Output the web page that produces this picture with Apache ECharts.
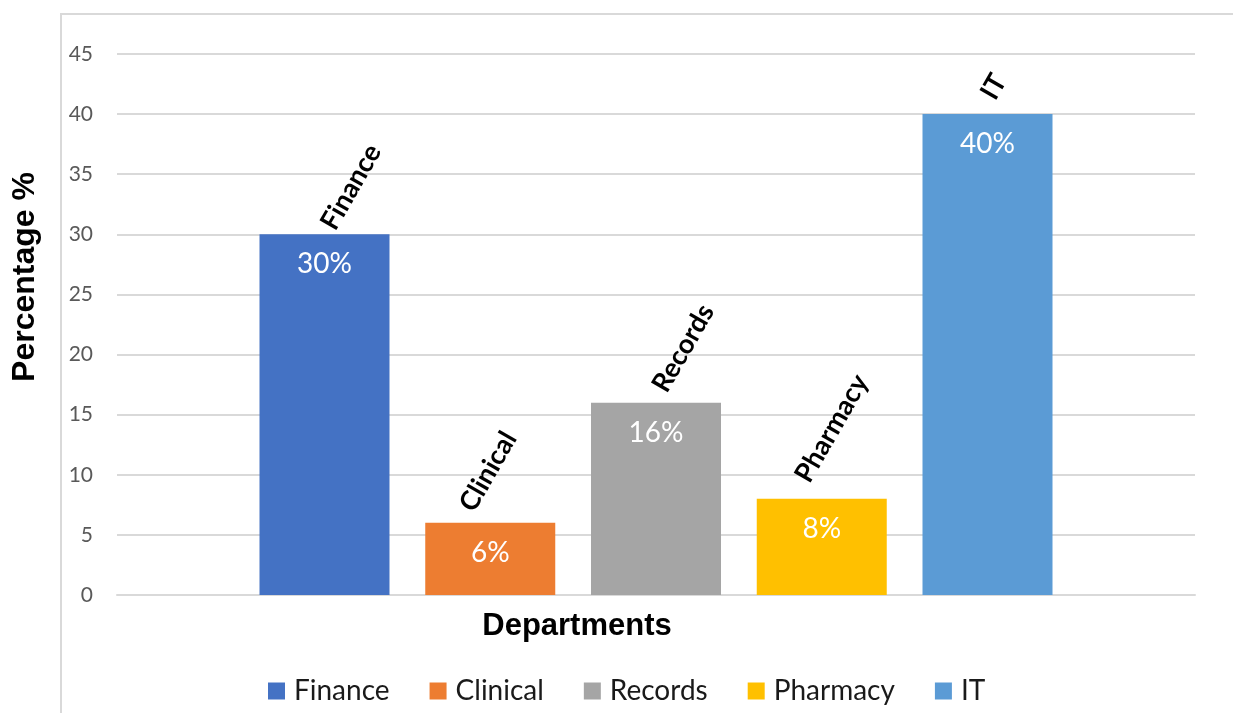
<!DOCTYPE html>
<html>
<head>
<meta charset="utf-8">
<script src="https://cdn.jsdelivr.net/npm/echarts@6/dist/echarts.min.js"></script>
<style>
  html, body { margin: 0; padding: 0; background: #ffffff; }
  #chart { width: 1233px; height: 713px; }
</style>
</head>
<body>
<div id="chart"></div>
<script>
// ---- data ----
const departments = ['Finance', 'Clinical', 'Records', 'Pharmacy', 'IT'];
const percentages = [30, 6, 16, 8, 40];
const colors = ['#4472C4', '#ED7D31', '#A5A5A5', '#FFC000', '#5B9BD5'];
const yTicks = [0, 5, 10, 15, 20, 25, 30, 35, 40, 45];

// ---- styling: on-screen nudges for the rotated name labels (pixels) ----
const nameLabelNudge = [[15, 0], [-12, -7], [15, -6], [-8, -12], [12, -10]];
const NAME_ROTATE = 60;

// label offsets are applied in the rotated frame; convert screen nudges
function toLocal(d) {
  const a = NAME_ROTATE * Math.PI / 180;
  const c = Math.cos(a), s = Math.sin(a);
  return [d[0] * c - d[1] * s, d[0] * s + d[1] * c];
}

const chart = echarts.init(document.getElementById('chart'));

const series = departments.map((name, i) => ({
  name: name,
  type: 'bar',
  data: [percentages[i]],
  barWidth: 130,
  barGap: '27.5%',
  itemStyle: { color: colors[i] },
  label: {
    show: true,
    position: 'insideTop',
    distance: 16,
    formatter: '{c}%',
    color: '#ffffff',
    fontFamily: 'Lato',
    fontSize: 28
  },
  markPoint: {
    symbol: 'rect',
    symbolSize: 0,
    silent: true,
    data: [{ type: 'max' }],
    label: {
      show: true,
      formatter: name,
      position: 'inside',
      align: 'left',
      verticalAlign: 'bottom',
      rotate: NAME_ROTATE,
      offset: toLocal(nameLabelNudge[i]),
      color: '#000000',
      fontFamily: 'Lato',
      fontWeight: 'bold',
      fontSize: 27
    }
  }
}));

chart.setOption({
  animation: false,
  backgroundColor: '#ffffff',
  grid: { left: 117, right: 38, top: 54, bottom: 118, containLabel: false },
  graphic: [{
    type: 'rect',
    shape: { x: 61, y: 14, width: 1400, height: 900 },
    style: { fill: 'none', stroke: '#d9d9d9', lineWidth: 2 },
    silent: true,
    z: -10
  }, {
    type: 'text',
    x: 25, y: 277,
    rotation: Math.PI / 2,
    style: {
      text: 'Percentage %',
      align: 'center',
      verticalAlign: 'middle',
      fontFamily: 'Liberation Sans',
      fontWeight: 'bold',
      fontSize: 32,
      fill: '#000000'
    },
    silent: true
  }],
  title: [{
    text: 'Departments',
    left: 572, top: 606,
    textAlign: 'center',
    textStyle: { fontFamily: 'Liberation Sans', fontWeight: 'bold', fontSize: 31, color: '#000000' }
  }],
  legend: {
    data: departments,
    left: 268,
    top: 677,
    padding: 0,
    icon: 'rect',
    itemWidth: 17,
    itemHeight: 17,
    itemGap: 40,
    textStyle: { fontFamily: 'Lato', fontSize: 28, color: '#1a1a1a', padding: [0, 0, 0, 4] }
  },
  xAxis: {
    type: 'category',
    data: [''],
    axisTick: { show: false },
    axisLabel: { show: false },
    axisLine: { show: true, lineStyle: { color: '#d9d9d9', width: 2 } }
  },
  yAxis: {
    type: 'value',
    min: yTicks[0],
    max: yTicks[yTicks.length - 1],
    interval: yTicks[1] - yTicks[0],
    axisLine: { show: false },
    axisTick: { show: false },
    axisLabel: { fontFamily: 'Lato', fontSize: 21, color: '#595959', margin: 24 },
    splitLine: { lineStyle: { color: '#d9d9d9', width: 2 } }
  },
  series: series
});
</script>
</body>
</html>
